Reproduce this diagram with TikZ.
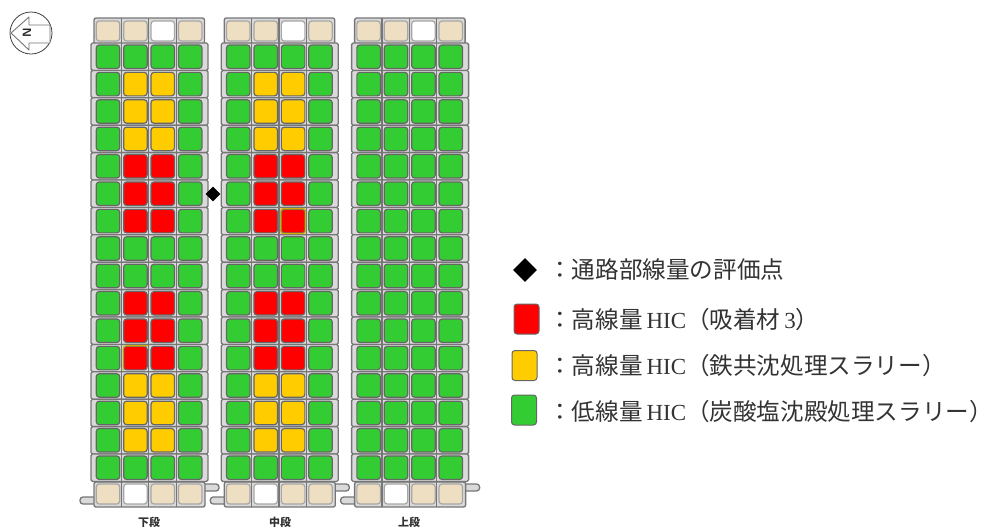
\documentclass[tikz,border=0pt]{standalone}
\usepackage{fontspec}
\usetikzlibrary{shapes.geometric}
\newfontfamily\jpf{Noto Sans CJK JP}
\newfontfamily\latf{Liberation Serif}
\newfontfamily\capf{Noto Sans CJK JP}
\definecolor{gr}{HTML}{33CC33}
\definecolor{yl}{HTML}{FFCC00}
\definecolor{rd}{HTML}{FF0000}
\definecolor{tn}{HTML}{EFDFC2}
\definecolor{fr}{HTML}{DADADA}
\definecolor{fl}{HTML}{767676}
\tikzset{
  x=1pt,y=-1pt,
  hic/.style={draw=#1,line width=1.2pt,rounded corners=3pt,minimum width=23.5pt,minimum height=23.5pt,inner sep=0pt},
  tancell/.style={draw=#1,line width=1.2pt,rounded corners=3pt,minimum width=23.5pt,minimum height=20pt,inner sep=0pt},
  frameline/.style={draw=fl,fill=fr,line width=1.3pt,line join=round},
  legbox/.style={draw=black!60,line width=1pt,rounded corners=3pt,inner sep=0pt,minimum width=25pt,minimum height=30pt},
  legtext/.style={anchor=west,inner sep=0pt,text=black!80,font=\jpf\fontsize{23.6}{25}\selectfont},
  caption/.style={inner sep=0pt,text=black!80,font=\capf\bfseries\fontsize{11}{12}\selectfont},
  marker/.style={diamond,fill=black,inner sep=0pt},
}
\newcommand{\lt}[1]{{\latf\fontsize{23}{24}\selectfont #1}}
\begin{document}
\begin{tikzpicture}
\useasboundingbox (0,0) rectangle (984,528);
% north mark
\node[circle,draw=black!75,line width=.8pt,minimum size=42pt,inner sep=0pt] (north) at (31,33) {};
\draw[draw=black!55,fill=white,line width=.9pt,line join=round]
  (11,33) -- (29,17) -- (29,25) -- (50,25) -- (50,43) -- (29,43) -- (29,50) -- cycle;
\node[rotate=90,inner sep=0pt,font=\sffamily\bfseries\fontsize{12}{12}\selectfont,text=black!85] (nlabel) at (27,33) {N};
% storage blocks
\foreach \b/\ox/\tw/\bw in {1/0/3/2,2/130.3/3/2,3/260.6/3/2} {
  % top row frame
  \draw[frameline,rounded corners=2pt] (94+\ox,18) rectangle (204.5+\ox,44);
  \foreach \c in {1,2,3} \draw[fl,line width=1.3pt] (94+27.4*\c+\ox,18) -- (94+27.4*\c+\ox,44);
  \foreach \c in {1,2,3,4} {
    \pgfmathsetmacro{\cx}{108+27.4*(\c-1)+\ox}
    \ifnum\c=\tw
      \node[tancell=black!35,fill=white] (top-\b-\c) at (\cx,31) {};
    \else
      \node[tancell=black!35,fill=tn] (top-\b-\c) at (\cx,31) {};
    \fi
  }
  % tabs
  \draw[frameline,rounded corners=3pt] (203+\ox,484) -- (219+\ox,484) -- (219+\ox,491) -- (203+\ox,491);
  \draw[frameline,rounded corners=3pt] (96+\ox,497) -- (80+\ox,497) -- (80+\ox,504) -- (96+\ox,504);
  % bottom frame
  \draw[frameline,rounded corners=2pt] (94+\ox,482) rectangle (205+\ox,507);
  \foreach \c in {1,2,3} \draw[fl,line width=1.3pt] (94+27.4*\c+\ox,482) -- (94+27.4*\c+\ox,507);
  \foreach \c in {1,2,3,4} {
    \pgfmathsetmacro{\cx}{108+27.4*(\c-1)+\ox}
    \ifnum\c=\bw
      \node[tancell=black!35,fill=white] (bot-\b-\c) at (\cx,494) {};
    \else
      \node[tancell=black!35,fill=tn] (bot-\b-\c) at (\cx,494) {};
    \fi
  }
  % HIC rows
  \foreach \r in {1,...,16} {
    \pgfmathsetmacro{\ty}{43+27.4*(\r-1)}
    \draw[frameline,rounded corners=1.5pt] (91+\ox,\ty) rectangle (208+\ox,\ty+27.4);
    \foreach \c in {1,2,3} \draw[fl,line width=1.3pt] (94+27.4*\c+\ox,\ty) -- (94+27.4*\c+\ox,\ty+27.4);
    \foreach \c in {1,2,3,4} {
      \pgfmathsetmacro{\cx}{108+27.4*(\c-1)+\ox}
      \pgfmathsetmacro{\cy}{\ty+13.7}
      \def\col{gr}\def\edge{black!60}
      \ifnum\b<3 \ifnum\c>1 \ifnum\c<4
        \ifcase\r\or\or\def\col{yl}\or\def\col{yl}\or\def\col{yl}\or\def\col{rd}\or\def\col{rd}\or\def\col{rd}\or\or\or\def\col{rd}\or\def\col{rd}\or\def\col{rd}\or\def\col{yl}\or\def\col{yl}\or\def\col{yl}\or\fi
      \fi\fi\fi
      \node[hic=\edge,fill=\col] (cell-\b-\r-\c) at (\cx,\cy) {};
    }
  }
}
% cells whose edge is drawn in the other colour
\draw[yl!85!black,line width=1.1pt,rounded corners=3pt] (cell-1-12-2.south west) -- (cell-1-12-2.north west) -- (cell-1-12-2.north east);
\draw[yl!85!black,line width=1.1pt,rounded corners=2pt] (cell-2-7-3.south west) rectangle (cell-2-7-3.north east);
% evaluation point
\node[marker,minimum size=15pt] (evalpoint) at (213,194) {};
% captions
\node[caption] (cap1) at (149,522) {下段};
\node[caption] (cap2) at (280,522) {中段};
\node[caption] (cap3) at (409,522) {上段};
% legend
\node[marker,minimum size=24pt] (lk1) at (525,270) {};
\node[legbox,fill=rd] (lk2) at (526.5,319) {};
\node[legbox,fill=yl] (lk3) at (524.5,365.5) {};
\node[legbox,fill=gr] (lk4) at (524,410) {};
\node[legtext] (lt1) at (548,270) {：通路部線量の評価点};
\node[legtext] (lt2) at (548,320) {：高線量\,\lt{HIC}（吸着材\,\lt{3}）};
\node[legtext] (lt3) at (548,366) {：高線量\,\lt{HIC}（鉄共沈処理スラリー）};
\node[legtext] (lt4) at (548,412) {：低線量\,\lt{HIC}（炭酸塩沈殿処理スラリー）\kern-12pt};
\end{tikzpicture}
\end{document}
